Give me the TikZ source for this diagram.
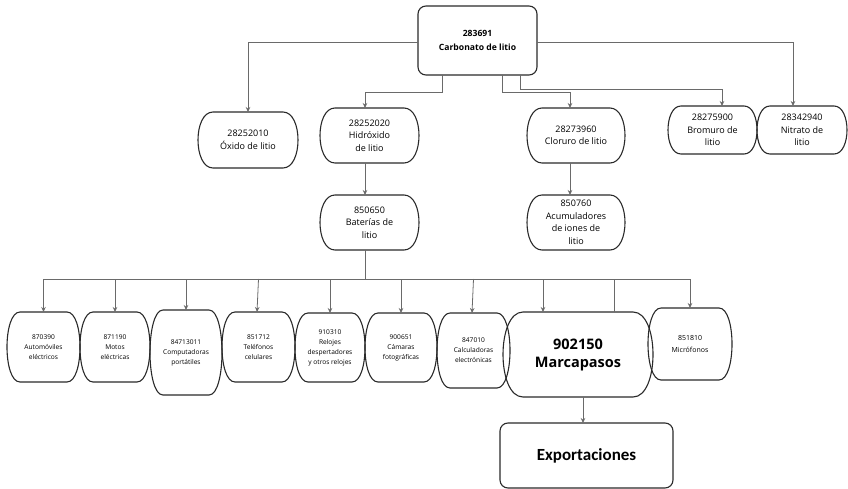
\documentclass[tikz,border=0pt]{standalone}
\usepackage{fontspec}
\setmainfont{Open Sans}
\newfontfamily\calib{Carlito}
\usetikzlibrary{arrows.meta}
\definecolor{edge}{HTML}{6A6A6A}
\definecolor{frame}{HTML}{2A2A2A}
\tikzset{
  box/.style={align=center, inner sep=2pt, outer sep=0pt,
    font=\fontsize{9}{12.5}\selectfont},
  smallbox/.style={box, font=\fontsize{6.6}{10}\selectfont},
  frameline/.style={draw=frame, line width=1.1pt},
  squarebox/.style={frameline, rounded corners=8pt, align=center, inner sep=2pt, outer sep=0pt},
  link/.style={draw=edge, line width=0.8pt},
  arr/.style={link, -{Stealth[length=5pt,width=4.5pt]}},
}
% frame with straight top and bottom and bulging sides around a named node
\newcommand{\bulgeframe}[2][13pt]{%
  \draw[frameline]
    ([xshift=#1]#2.north west) -- ([xshift=-#1]#2.north east)
    .. controls ([xshift=#1/3]#2.north east) and ([xshift=#1/3]#2.south east)
    .. ([xshift=-#1]#2.south east) -- ([xshift=#1]#2.south west)
    .. controls ([xshift=-#1/3]#2.south west) and ([xshift=-#1/3]#2.north west)
    .. cycle;}
\begin{document}
\begin{tikzpicture}[x=1pt,y=-1pt]
\useasboundingbox (0,0) rectangle (848,489);

% top product
\node[squarebox, minimum width=119pt, minimum height=69pt,
      font=\fontsize{8.6}{13.5}\selectfont\bfseries] (top) at (477.5,40.5) {283691\\Carbonato de litio};

% first-level derivatives
\node[box, minimum width=100pt, minimum height=56pt] (oxido) at (248,140) {28252010\\Óxido de litio};
\node[box, minimum width=99pt, minimum height=55pt] (hidro) at (369.5,135.5) {28252020\\Hidróxido\\de litio};
\node[box, minimum width=98pt, minimum height=55pt] (clor) at (576,135.5) {28273960\\Cloruro de litio};
\node[box, minimum width=89pt, minimum height=48pt] (brom) at (712.5,130) {28275900\\Bromuro de\\litio};
\node[box, minimum width=90pt, minimum height=48pt] (nitr) at (802,130) {28342940\\Nitrato de\\litio};

% second level
\node[box, minimum width=99pt, minimum height=55pt] (bat) at (369.5,222.5) {850650\\Baterías de\\litio};
\node[box, minimum width=98pt, minimum height=55pt] (acum) at (576,222.5) {850760\\Acumuladores\\de iones de\\litio};

% end uses of lithium batteries
\node[smallbox, minimum width=73pt, minimum height=70pt] (auto) at (43.5,347) {870390\\Automóviles\\eléctricos};
\node[smallbox, minimum width=70pt, minimum height=70pt] (moto) at (115,347) {871190\\Motos\\eléctricas};
\node[smallbox, minimum width=72pt, minimum height=85pt] (comp) at (186,352.5) {84713011\\Computadoras\\portátiles};
\node[smallbox, minimum width=73pt, minimum height=70pt] (tel) at (258.5,347) {851712\\Teléfonos\\celulares};
\node[smallbox, minimum width=70pt, minimum height=69pt] (rel) at (330,347.5) {910310\\Relojes\\despertadores\\y otros relojes};
\node[smallbox, minimum width=72pt, minimum height=69pt] (cam) at (401,347.5) {900651\\Cámaras\\fotográficas};
\node[smallbox, minimum width=73pt, minimum height=75pt] (calc) at (473.5,350.5) {847010\\Calculadoras\\electrónicas};
\node[box, minimum width=150pt, minimum height=85pt,
      font=\fontsize{14.5}{18}\selectfont\bfseries] (marc) at (578,354.5) {902150\\Marcapasos};
\node[smallbox, minimum width=84pt, minimum height=72pt, font=\fontsize{7}{12}\selectfont] (micr) at (690,344) {851810\\Micrófonos};

\node[squarebox, minimum width=173pt, minimum height=65pt,
      font=\calib\fontsize{17}{20}\selectfont\bfseries] (exp) at (586.5,455.5) {Exportaciones};

% frames of the bulging boxes
\foreach \n in {oxido,hidro,clor,bat,acum}{\bulgeframe[15pt]{\n}}
\foreach \n in {brom,nitr}{\bulgeframe[13pt]{\n}}
\foreach \n in {auto,moto,comp,tel,rel,cam,calc,micr}{\bulgeframe[13pt]{\n}}
\bulgeframe[20pt]{marc}

% branches leaving the top product
\coordinate (tl) at (top.west |- 0,42);
\coordinate (tr) at (top.east |- 0,42);
\draw[arr] (tl) -| (oxido.north);
\draw[arr] (tr) -| (nitr.north -| 793,0);
\coordinate (h0) at (442,0);
\coordinate (c0) at (502,0);
\coordinate (b0) at (520,0);
\draw[arr] (top.south -| h0) |- (365,92) -- (hidro.north -| 365,0);
\draw[arr] (top.south -| c0) |- (570,92) -- (clor.north -| 570,0);
\draw[arr] (top.south -| b0) |- (722,89) -- (brom.north -| 722,0);

% vertical links
\draw[arr] (hidro.south -| 365,0) -- (bat.north -| 365,0);
\draw[arr] (clor.south -| 570,0) -- (acum.north -| 570,0);

% distribution bus under the batteries
\coordinate (bus) at (365,279);
\draw[link] (bat.south -| bus) -- (bus);
\draw[link] (auto.north |- bus) -- (micr.north |- bus);
\draw[arr] (auto.north |- bus) -- (auto.north);
\draw[arr] (moto.north |- bus) -- (moto.north);
\draw[arr] (comp.north |- bus) -- (comp.north);
\draw[arr] (tel.north |- bus) -- (tel.north -| 257,0);
\draw[arr] (rel.north |- bus) -- (rel.north);
\draw[arr] (cam.north |- bus) -- (cam.north);
\draw[arr] (calc.north |- bus) -- (calc.north -| 472,0);
\draw[arr] (543,279) -- (marc.north -| 543,0);
\draw[link] (614,279) -- (marc.north -| 614,0);
\draw[arr] (micr.north |- bus) -- (micr.north);

% exports
\draw[arr] (marc.south -| 583,0) -- (exp.north -| 583,0);
\end{tikzpicture}
\end{document}
